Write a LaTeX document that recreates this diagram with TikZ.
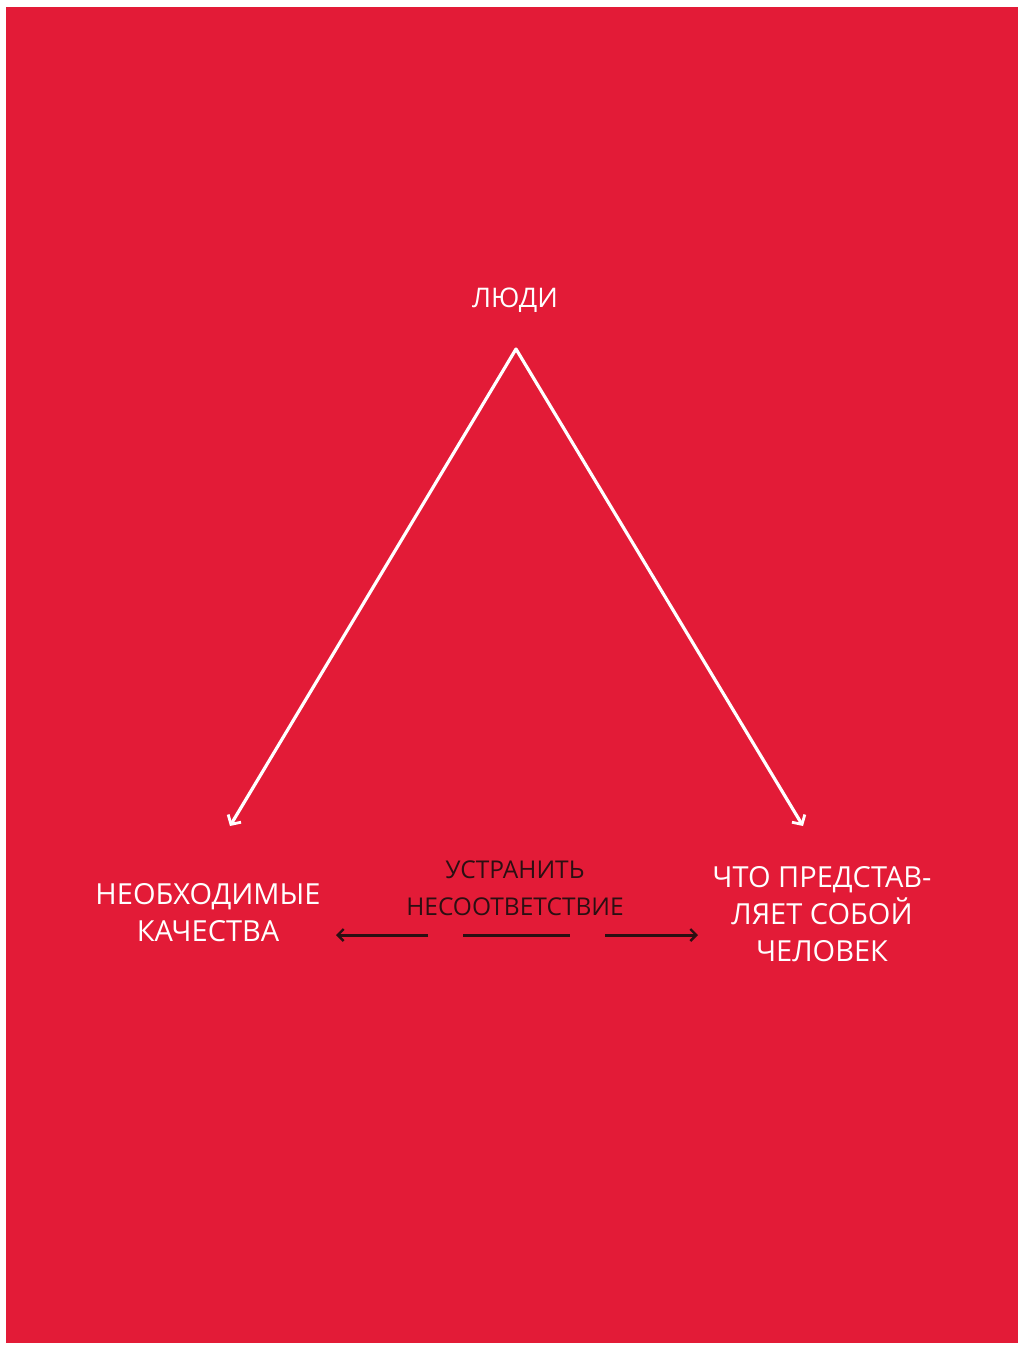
\documentclass[tikz,border=0pt]{standalone}
\usepackage{fontspec}
\setmainfont{Open Sans}
\usetikzlibrary{arrows.meta}
\definecolor{bgred}{HTML}{E31B37}
\definecolor{darkink}{HTML}{2B0F12}
\begin{document}
\begin{tikzpicture}[x=1pt,y=-1pt,
  lbl/.style={text=white,font=\fontsize{29}{37}\selectfont,align=center,inner sep=0pt},
  midlbl/.style={text=darkink,font=\fontsize{24.5}{37}\selectfont,align=center,inner sep=0pt},
  wline/.style={draw=white,line width=3.2pt,line cap=round,-{Straight Barb[length=7pt,width=15pt,line width=2.8pt]}},
  bline/.style={draw=darkink,line width=3pt},
  barrow/.style={bline,-{Straight Barb[length=6pt,width=12pt,line width=2.4pt]}}]
\useasboundingbox (0,0) rectangle (1019,1346);
\fill[white] (0,0) rectangle (1019,1346);
\fill[bgred] (6,7) rectangle (1018,1343);
\node[lbl,font=\fontsize{27}{37}\selectfont] (people) at (515,300) {ЛЮДИ};
\coordinate (apex) at (516,349);
\coordinate (ltip) at (230,826);
\coordinate (rtip) at (803,826);
\draw[wline] (apex) -- (ltip);
\draw[wline] (apex) -- (rtip);
\node[lbl] (need) at (208,913) {НЕОБХОДИМЫЕ\\КАЧЕСТВА};
\node[lbl] (what) at (822,914) {ЧТО ПРЕДСТАВ-\\ЛЯЕТ СОБОЙ\\ЧЕЛОВЕК};
\node[midlbl] (fix) at (515,888) {УСТРАНИТЬ\\НЕСООТВЕТСТВИЕ};
\coordinate (la) at (428,935);
\coordinate (lb) at (336,935);
\coordinate (ma) at (463,935);
\coordinate (mb) at (570,935);
\coordinate (ra) at (605,935);
\coordinate (rb) at (698,935);
\draw[barrow] (la) -- (lb);
\draw[bline] (ma) -- (mb);
\draw[barrow] (ra) -- (rb);
\end{tikzpicture}
\end{document}
